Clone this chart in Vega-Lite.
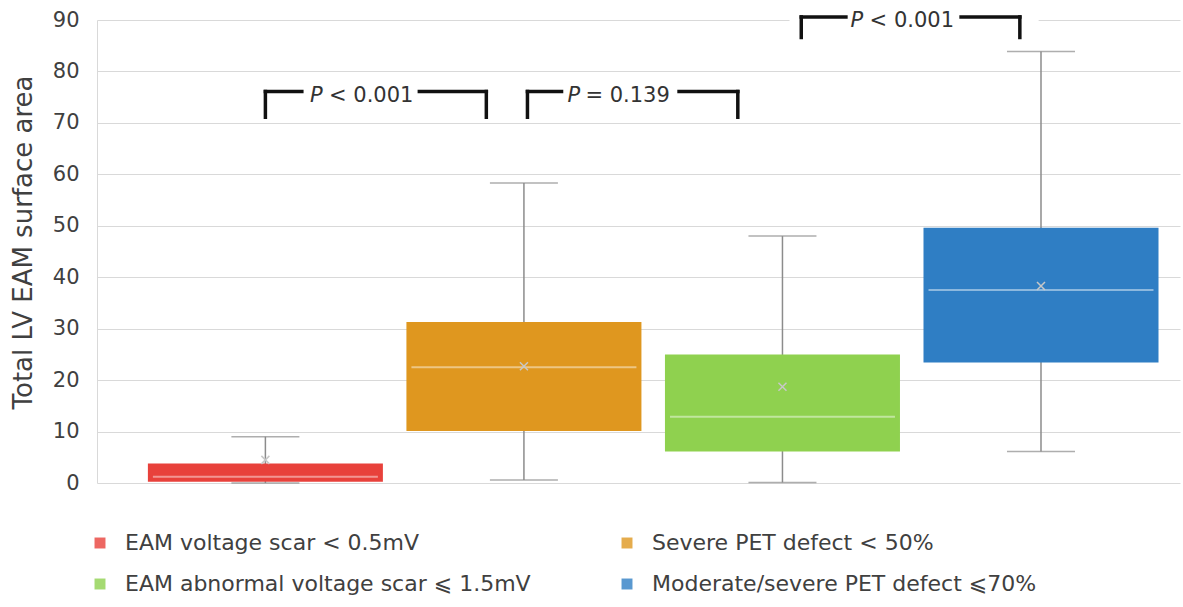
{
  "$schema": "https://vega.github.io/schema/vega-lite/v6.json",
  "width": 1083,
  "height": 463,
  "autosize": {"type": "none"},
  "padding": {"left": 97, "top": 20, "right": 3, "bottom": 124},
  "config": {"view": {"stroke": null}, "font": "DejaVu Sans"},
  "layer": [
    {
      "data": {"values": [
        {"group": "EAM voltage scar < 0.5mV", "lower": 0.0, "q1": 0.25, "median": 1.2, "q3": 3.8, "upper": 9.0, "mean": 4.5},
        {"group": "Severe PET defect < 50%", "lower": 0.6, "q1": 10.1, "median": 22.5, "q3": 31.3, "upper": 58.3, "mean": 22.7},
        {"group": "EAM abnormal voltage scar ⩽ 1.5mV", "lower": 0.1, "q1": 6.1, "median": 12.9, "q3": 25.0, "upper": 48.0, "mean": 18.7},
        {"group": "Moderate/severe PET defect ⩽70%", "lower": 6.1, "q1": 23.4, "median": 37.5, "q3": 49.6, "upper": 83.9, "mean": 38.3}
      ]},
      "encoding": {
        "x": {
          "field": "group", "type": "nominal", "axis": null,
          "scale": {
            "type": "band",
            "domain": ["EAM voltage scar < 0.5mV", "Severe PET defect < 50%", "EAM abnormal voltage scar ⩽ 1.5mV", "Moderate/severe PET defect ⩽70%"],
            "paddingInner": 0.091, "paddingOuter": 0.14, "align": 0.703
          }
        }
      },
      "layer": [
        {
          "mark": {"type": "rule", "color": "#8c8c8c", "strokeWidth": 1.5},
          "encoding": {
            "y": {
              "field": "lower", "type": "quantitative",
              "scale": {"domain": [0, 90], "nice": false, "zero": true},
              "axis": {
                "title": "Total LV EAM surface area",
                "values": [0, 10, 20, 30, 40, 50, 60, 70, 80, 90],
                "grid": true, "gridColor": "#d9d9d9", "gridWidth": 1,
                "domain": true, "domainColor": "#d9d9d9", "domainWidth": 1,
                "ticks": false,
                "labelFont": "DejaVu Sans", "labelFontSize": 21, "labelColor": "#404040", "labelPadding": 18,
                "titleFont": "DejaVu Sans", "titleFontSize": 26, "titleFontWeight": "normal", "titleColor": "#404040",
                "titleX": -66, "titleY": 222, "titleBaseline": "alphabetic", "titleAngle": -90, "titleAlign": "center"
              }
            },
            "y2": {"field": "upper"}
          }
        },
        {
          "mark": {"type": "tick", "color": "#8c8c8c", "size": 68, "thickness": 1.5},
          "encoding": {"y": {"field": "upper", "type": "quantitative"}}
        },
        {
          "mark": {"type": "tick", "color": "#8c8c8c", "size": 68, "thickness": 1.5},
          "encoding": {"y": {"field": "lower", "type": "quantitative"}}
        },
        {
          "mark": {"type": "bar"},
          "encoding": {
            "y": {"field": "q1", "type": "quantitative"},
            "y2": {"field": "q3"},
            "color": {
              "field": "group", "type": "nominal",
              "scale": {
                "domain": ["EAM voltage scar < 0.5mV", "EAM abnormal voltage scar ⩽ 1.5mV", "Severe PET defect < 50%", "Moderate/severe PET defect ⩽70%"],
                "range": ["#e8413b", "#8fd14f", "#df971f", "#2f7ec4"]
              },
              "legend": {
                "title": null, "orient": "none", "legendX": -8, "legendY": 512,
                "columns": 2, "columnPadding": 85, "rowPadding": 19, "padding": 0,
                "symbolType": "square", "symbolSize": 120, "symbolStrokeWidth": 0, "symbolOpacity": 0.8,
                "labelFont": "DejaVu Sans", "labelFontSize": 22, "labelColor": "#404040", "labelOffset": 14, "labelLimit": 700
              }
            }
          }
        },
        {
          "mark": {"type": "tick", "color": "#ffffff", "opacity": 0.45, "size": 225, "thickness": 2},
          "encoding": {"y": {"field": "median", "type": "quantitative"}}
        },
        {
          "mark": {"type": "point", "shape": "M-1,-1L1,1M-1,1L1,-1", "size": 64, "filled": false, "stroke": "#c8c8c8", "strokeWidth": 1.5, "opacity": 1},
          "encoding": {"y": {"field": "mean", "type": "quantitative"}}
        }
      ]
    },
    {
      "data": {"values": [{"a": "EAM voltage scar < 0.5mV", "b": "Severe PET defect < 50%", "top": 76.1, "bot": 71.1, "p": "P", "rest": "< 0.001"}]},
      "layer": [
        {"mark": {"type": "rule", "color": "#111111", "strokeWidth": 3.5, "strokeCap": "square"},
         "encoding": {"x": {"field": "a", "type": "nominal", "bandPosition": 0.5}, "x2": {"field": "a", "bandPosition": 0.655}, "y": {"field": "top", "type": "quantitative"}}},
        {"mark": {"type": "rule", "color": "#111111", "strokeWidth": 3.5, "strokeCap": "square"},
         "encoding": {"x": {"field": "b", "type": "nominal", "bandPosition": 0.055}, "x2": {"field": "b", "bandPosition": 0.34}, "y": {"field": "top", "type": "quantitative"}}},
        {"mark": {"type": "rule", "color": "#111111", "strokeWidth": 3.5, "strokeCap": "square"},
         "encoding": {"x": {"field": "a", "type": "nominal", "bandPosition": 0.5}, "y": {"field": "top", "type": "quantitative"}, "y2": {"field": "bot"}}},
        {"mark": {"type": "rule", "color": "#111111", "strokeWidth": 3.5, "strokeCap": "square"},
         "encoding": {"x": {"field": "b", "type": "nominal", "bandPosition": 0.34}, "y": {"field": "top", "type": "quantitative"}, "y2": {"field": "bot"}}},
        {"mark": {"type": "text", "fontStyle": "italic", "fontSize": 21, "align": "left", "baseline": "middle", "dy": 4, "color": "#333333"},
         "encoding": {"x": {"field": "a", "type": "nominal", "bandPosition": 0.69}, "y": {"field": "top", "type": "quantitative"}, "text": {"field": "p"}}},
        {"mark": {"type": "text", "fontSize": 21, "align": "left", "baseline": "middle", "dy": 4, "dx": 19, "color": "#333333"},
         "encoding": {"x": {"field": "a", "type": "nominal", "bandPosition": 0.69}, "y": {"field": "top", "type": "quantitative"}, "text": {"field": "rest"}}}
      ]
    },
    {
      "data": {"values": [{"a": "Severe PET defect < 50%", "b": "EAM abnormal voltage scar ⩽ 1.5mV", "top": 76.1, "bot": 71.1, "p": "P", "rest": "= 0.139"}]},
      "layer": [
        {"mark": {"type": "rule", "color": "#111111", "strokeWidth": 3.5, "strokeCap": "square"},
         "encoding": {"x": {"field": "a", "type": "nominal", "bandPosition": 0.515}, "x2": {"field": "a", "bandPosition": 0.66}, "y": {"field": "top", "type": "quantitative"}}},
        {"mark": {"type": "rule", "color": "#111111", "strokeWidth": 3.5, "strokeCap": "square"},
         "encoding": {"x": {"field": "b", "type": "nominal", "bandPosition": 0.06}, "x2": {"field": "b", "bandPosition": 0.31}, "y": {"field": "top", "type": "quantitative"}}},
        {"mark": {"type": "rule", "color": "#111111", "strokeWidth": 3.5, "strokeCap": "square"},
         "encoding": {"x": {"field": "a", "type": "nominal", "bandPosition": 0.515}, "y": {"field": "top", "type": "quantitative"}, "y2": {"field": "bot"}}},
        {"mark": {"type": "rule", "color": "#111111", "strokeWidth": 3.5, "strokeCap": "square"},
         "encoding": {"x": {"field": "b", "type": "nominal", "bandPosition": 0.31}, "y": {"field": "top", "type": "quantitative"}, "y2": {"field": "bot"}}},
        {"mark": {"type": "text", "fontStyle": "italic", "fontSize": 21, "align": "left", "baseline": "middle", "dy": 4, "color": "#333333"},
         "encoding": {"x": {"field": "a", "type": "nominal", "bandPosition": 0.685}, "y": {"field": "top", "type": "quantitative"}, "text": {"field": "p"}}},
        {"mark": {"type": "text", "fontSize": 21, "align": "left", "baseline": "middle", "dy": 4, "dx": 18, "color": "#333333"},
         "encoding": {"x": {"field": "a", "type": "nominal", "bandPosition": 0.685}, "y": {"field": "top", "type": "quantitative"}, "text": {"field": "rest"}}}
      ]
    },
    {
      "data": {"values": [{"a": "EAM abnormal voltage scar ⩽ 1.5mV", "b": "Moderate/severe PET defect ⩽70%", "top": 90.6, "bot": 86.6, "p": "P", "rest": "< 0.001", "cover1": 89.2, "cover2": 91.5}]},
      "layer": [
        {"mark": {"type": "rect", "color": "#ffffff"},
         "encoding": {"x": {"field": "a", "type": "nominal", "bandPosition": 0.53}, "x2": {"field": "b", "bandPosition": 0.49}, "y": {"field": "cover1", "type": "quantitative"}, "y2": {"field": "cover2"}}},
        {"mark": {"type": "rule", "color": "#111111", "strokeWidth": 3.5, "strokeCap": "square"},
         "encoding": {"x": {"field": "a", "type": "nominal", "bandPosition": 0.58}, "x2": {"field": "a", "bandPosition": 0.77}, "y": {"field": "top", "type": "quantitative"}}},
        {"mark": {"type": "rule", "color": "#111111", "strokeWidth": 3.5, "strokeCap": "square"},
         "encoding": {"x": {"field": "b", "type": "nominal", "bandPosition": 0.16}, "x2": {"field": "b", "bandPosition": 0.41}, "y": {"field": "top", "type": "quantitative"}}},
        {"mark": {"type": "rule", "color": "#111111", "strokeWidth": 3.5, "strokeCap": "square"},
         "encoding": {"x": {"field": "a", "type": "nominal", "bandPosition": 0.58}, "y": {"field": "top", "type": "quantitative"}, "y2": {"field": "bot"}}},
        {"mark": {"type": "rule", "color": "#111111", "strokeWidth": 3.5, "strokeCap": "square"},
         "encoding": {"x": {"field": "b", "type": "nominal", "bandPosition": 0.41}, "y": {"field": "top", "type": "quantitative"}, "y2": {"field": "bot"}}},
        {"mark": {"type": "text", "fontStyle": "italic", "fontSize": 21, "align": "left", "baseline": "middle", "dy": 4, "color": "#333333"},
         "encoding": {"x": {"field": "a", "type": "nominal", "bandPosition": 0.79}, "y": {"field": "top", "type": "quantitative"}, "text": {"field": "p"}}},
        {"mark": {"type": "text", "fontSize": 21, "align": "left", "baseline": "middle", "dy": 4, "dx": 19, "color": "#333333"},
         "encoding": {"x": {"field": "a", "type": "nominal", "bandPosition": 0.79}, "y": {"field": "top", "type": "quantitative"}, "text": {"field": "rest"}}}
      ]
    }
  ]
}
